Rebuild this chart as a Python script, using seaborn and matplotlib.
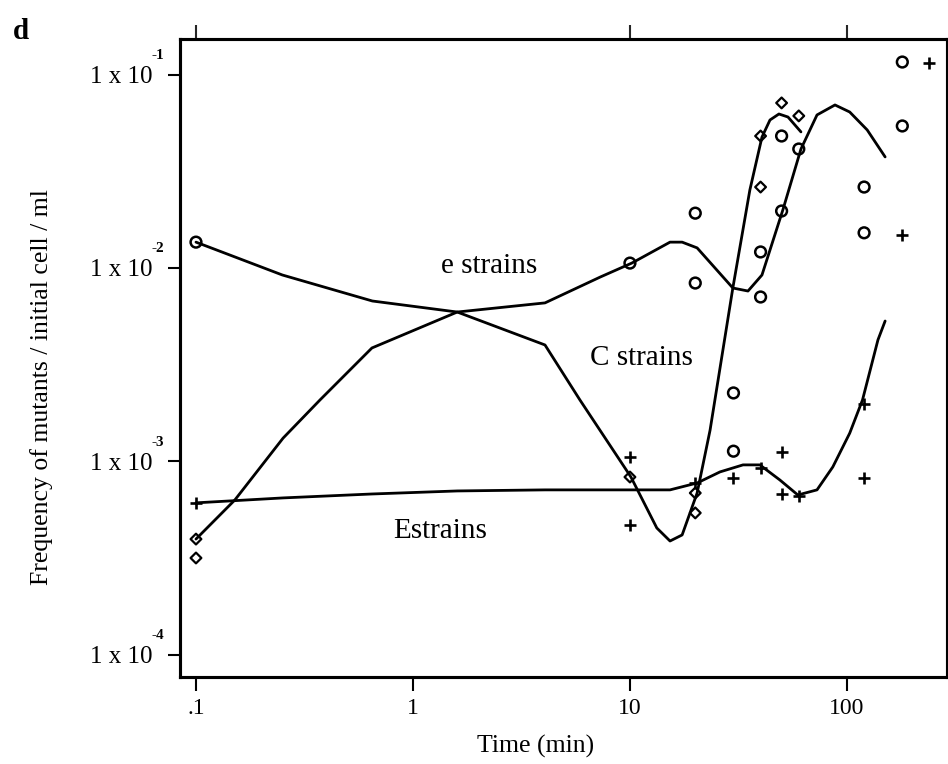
import numpy as np
import pandas as pd
import matplotlib
matplotlib.use("Agg")
import matplotlib.pyplot as plt
import seaborn as sns

# ---------------- data ----------------
# observed points
e_time = [0.1, 10, 20, 20, 30, 30, 40, 40, 50, 50, 60, 120, 120, 180, 180]
e_freq = [0.0136, 0.0106, 0.0192, 0.00836, 0.00226, 0.00113, 0.0121, 0.00708,
          0.0197, 0.0481, 0.0412, 0.0262, 0.0152, 0.116, 0.0542]

c_time = [0.1, 0.1, 10, 20, 20, 40, 40, 50, 60]
c_freq = [3.97e-4, 3.17e-4, 8.31e-4, 6.87e-4, 5.42e-4, 0.0481, 0.0262, 0.0713, 0.0611]

E_time = [0.1, 10, 10, 20, 30, 40, 50, 50, 60, 120, 120, 180, 240]
E_freq = [6.11e-4, 1.05e-3, 4.70e-4, 7.74e-4, 8.22e-4, 9.24e-4, 1.12e-3, 6.79e-4,
          6.64e-4, 1.98e-3, 8.22e-4, 0.0148, 0.115]

# fitted curves
e_curve_t = [0.1, 0.25, 0.65, 1.6, 4.06, 7.3, 10.2, 15.3, 17.4, 20.4, 29.8, 35.0,
             40.6, 50.7, 61.4, 72.8, 88.1, 103, 124, 150]
e_curve_f = [0.0136, 0.0092, 0.00675, 0.00592, 0.0066, 0.00898, 0.0106, 0.0136,
             0.0136, 0.0127, 0.00788, 0.0076, 0.0092, 0.02, 0.0412, 0.0618,
             0.0696, 0.064, 0.0517, 0.0375]

c_curve_t = [0.1, 0.151, 0.252, 0.373, 0.647, 1.6, 4.06, 5.88, 10.1, 13.3, 15.3,
             17.4, 20.4, 23.4, 29.8, 35.7, 40.6, 44.2, 48.6, 53.5, 61.4]
c_curve_f = [3.97e-4, 6.32e-4, 1.32e-3, 2.08e-3, 3.86e-3, 5.92e-3, 4.0e-3, 2.08e-3,
             8.32e-4, 4.53e-4, 3.88e-4, 4.17e-4, 6.87e-4, 1.45e-3, 7.88e-3, 0.0253,
             0.0475, 0.0582, 0.0625, 0.0603, 0.0505]

E_curve_t = [0.1, 0.252, 0.647, 1.6, 4.06, 5.88, 15.3, 20.4, 26.0, 33.2, 39.7,
             49.1, 59.4, 72.8, 86.1, 103, 118, 139, 150]
E_curve_f = [6.11e-4, 6.48e-4, 6.79e-4, 7.04e-4, 7.13e-4, 7.13e-4, 7.13e-4, 7.74e-4,
             8.83e-4, 9.6e-4, 9.6e-4, 8.02e-4, 6.71e-4, 7.13e-4, 9.37e-4, 1.40e-3,
             2.08e-3, 4.25e-3, 5.32e-3]

labels_text = ["e strains", "C strains", "Estrains"]
labels_t = [2.24, 11.3, 1.34]
labels_f = [0.00942, 3.15e-3, 4.03e-4]

x_ticks = [0.1, 1, 10, 100]
x_ticklabels = [".1", "1", "10", "100"]
top_ticks = [0.1, 10, 100]
y_ticks = [1e-4, 1e-3, 1e-2, 1e-1]
y_exponents = ["-4", "-3", "-2", "-1"]

# ---------------- styling ----------------
sns.set_theme(style="ticks")
plt.rcParams['font.family'] = ['Liberation Serif', 'DejaVu Serif']
plt.rcParams['axes.linewidth'] = 2.2

fig = plt.figure(figsize=(9.48, 7.64), dpi=100)
ax = fig.add_axes([0.18987, 0.11387, 0.809, 0.8351])
ax.set_xscale('log')
ax.set_yscale('log')

curves = [(e_curve_t, e_curve_f), (c_curve_t, c_curve_f), (E_curve_t, E_curve_f)]
for t, f in curves:
    sns.lineplot(x=t, y=f, ax=ax, sort=False, estimator=None, color='black',
                 linewidth=2.0)

sns.scatterplot(x=e_time, y=e_freq, ax=ax, marker='o', s=60, facecolors='none',
                edgecolor='black', linewidth=1.8, zorder=3)
sns.scatterplot(x=c_time, y=c_freq, ax=ax, marker='D', s=30, facecolors='none',
                edgecolor='black', linewidth=1.6, zorder=3)
sns.scatterplot(x=E_time, y=E_freq, ax=ax, marker='+', s=75, color='black',
                linewidth=1.9, zorder=3)

for txt, t, f in zip(labels_text, labels_t, labels_f):
    ax.text(t, f, txt, ha='center', va='baseline', fontsize=21, color='black')

ax.set_xlim(0.0844, 289)
ax.set_ylim(7.69e-5, 0.1526)

ax.minorticks_off()
ax.set_xticks(x_ticks)
ax.set_xticklabels(x_ticklabels)
ax.set_yticks(y_ticks)
ax.set_yticklabels(["1 x 10"] * len(y_ticks))
ax.tick_params(axis='x', direction='out', length=10, width=1.5, pad=5,
               labelsize=17, colors='black')
ax.tick_params(axis='y', direction='out', length=8.6, width=1.5, pad=11.5,
               labelsize=18, colors='black')

for v, ex in zip(y_ticks, y_exponents):
    ax.annotate(ex, xy=(0, v), xycoords=('axes fraction', 'data'),
                xytext=(-28, 19), textcoords='offset pixels', ha='left',
                va='center', fontsize=11, fontweight='bold', color='black')

ax2 = ax.twiny()
ax2.set_xscale('log')
ax2.set_xlim(ax.get_xlim())
ax2.minorticks_off()
ax2.set_xticks(top_ticks)
ax2.set_xticklabels([])
ax2.tick_params(axis='x', direction='out', length=10, width=1.5)

for a in (ax, ax2):
    for s in a.spines.values():
        s.set_color('black')
        s.set_linewidth(2.2)

ax.set_xlabel("Time (min)", fontsize=18.5, color='black')
ax.xaxis.set_label_coords(0.463, -0.0905)
ax.xaxis.label.set_va('top')
ax.set_ylabel("Frequency of mutants / initial cell / ml", fontsize=18.5, color='black')
ax.yaxis.set_label_coords(-0.1656, 0.455)

fig.text(0.0137, 0.949, "d", fontsize=21, fontweight='bold', va='baseline',
         ha='left', color='black')

fig.savefig("out.png", dpi=100)
